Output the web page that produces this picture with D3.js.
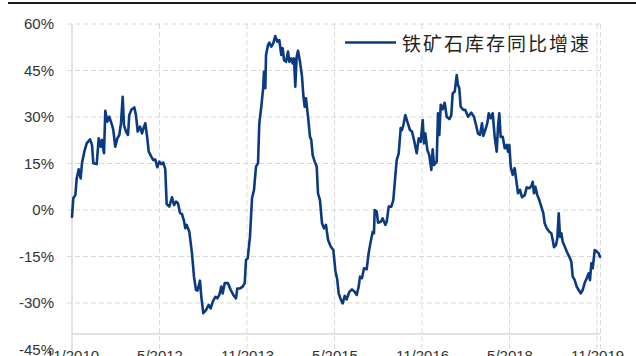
<!DOCTYPE html>
<html>
<head>
<meta charset="utf-8">
<script src="https://cdn.jsdelivr.net/npm/d3@7/dist/d3.min.js"></script>
<style>
  html, body { margin: 0; padding: 0; background: #fff; }
  svg { display: block; overflow: hidden; }
</style>
</head>
<body>
<svg id="chart" width="636" height="356"></svg>
<script>
// ---- data (decimal year, % yoy) ----
const seriesName = "铁矿石库存同比增速";
const years = [
  2010.833, 2010.855, 2010.890, 2010.914, 2010.948, 2010.982, 2011.004, 2011.044, 2011.085, 2011.142,
  2011.176, 2011.198, 2011.256, 2011.291, 2011.325, 2011.347, 2011.382, 2011.404, 2011.438, 2011.472,
  2011.519, 2011.541, 2011.575, 2011.610, 2011.644, 2011.673, 2011.702, 2011.724, 2011.759, 2011.793,
  2011.815, 2011.850, 2011.901, 2011.930, 2011.959, 2011.999, 2012.033, 2012.067, 2012.090, 2012.124,
  2012.148, 2012.192, 2012.227, 2012.261, 2012.295, 2012.330, 2012.364, 2012.398, 2012.432, 2012.456,
  2012.501, 2012.547, 2012.582, 2012.616, 2012.650, 2012.684, 2012.719, 2012.753, 2012.775, 2012.799,
  2012.844, 2012.890, 2012.924, 2012.959, 2012.985, 2013.027, 2013.050, 2013.084, 2013.130, 2013.176,
  2013.211, 2013.245, 2013.290, 2013.324, 2013.358, 2013.392, 2013.416, 2013.451, 2013.507, 2013.554,
  2013.598, 2013.644, 2013.667, 2013.713, 2013.759, 2013.794, 2013.816, 2013.845, 2013.884, 2013.919,
  2013.953, 2013.987, 2014.022, 2014.044, 2014.078, 2014.112, 2014.124, 2014.147, 2014.159, 2014.193,
  2014.215, 2014.250, 2014.284, 2014.318, 2014.352, 2014.387, 2014.421, 2014.445, 2014.467, 2014.502,
  2014.536, 2014.558, 2014.592, 2014.616, 2014.639, 2014.661, 2014.685, 2014.707, 2014.742, 2014.776,
  2014.798, 2014.822, 2014.844, 2014.879, 2014.913, 2014.935, 2014.959, 2014.994, 2015.028, 2015.050,
  2015.084, 2015.119, 2015.153, 2015.187, 2015.222, 2015.268, 2015.313, 2015.347, 2015.381, 2015.405,
  2015.439, 2015.474, 2015.508, 2015.542, 2015.587, 2015.633, 2015.679, 2015.714, 2015.748, 2015.770,
  2015.804, 2015.839, 2015.885, 2015.919, 2015.954, 2015.988, 2016.010, 2016.022, 2016.057, 2016.079,
  2016.125, 2016.159, 2016.204, 2016.228, 2016.262, 2016.307, 2016.341, 2016.365, 2016.399, 2016.434,
  2016.468, 2016.490, 2016.513, 2016.547, 2016.581, 2016.627, 2016.662, 2016.696, 2016.742, 2016.776,
  2016.811, 2016.845, 2016.867, 2016.890, 2016.924, 2016.958, 2016.993, 2017.016, 2017.039, 2017.085,
  2017.107, 2017.130, 2017.154, 2017.188, 2017.222, 2017.256, 2017.301, 2017.335, 2017.359, 2017.394,
  2017.428, 2017.450, 2017.472, 2017.496, 2017.541, 2017.575, 2017.622, 2017.678, 2017.724, 2017.759,
  2017.793, 2017.827, 2017.862, 2017.884, 2017.918, 2017.953, 2017.977, 2018.011, 2018.045, 2018.079,
  2018.114, 2018.136, 2018.158, 2018.182, 2018.217, 2018.251, 2018.285, 2018.307, 2018.330, 2018.354,
  2018.388, 2018.422, 2018.456, 2018.479, 2018.513, 2018.547, 2018.594, 2018.628, 2018.673, 2018.707,
  2018.731, 2018.753, 2018.776, 2018.810, 2018.844, 2018.878, 2018.913, 2018.936, 2018.971, 2019.015,
  2019.050, 2019.074, 2019.096, 2019.130, 2019.153, 2019.177, 2019.199, 2019.222, 2019.245, 2019.280,
  2019.314, 2019.359, 2019.393, 2019.417, 2019.451, 2019.485, 2019.519, 2019.554, 2019.588, 2019.622,
  2019.657, 2019.691, 2019.713, 2019.736, 2019.759, 2019.794, 2019.828, 2019.862, 2019.884
];
const values = [
  -2.2, 3.8, 4.8, 10.2, 13.1, 10.2, 15.1, 18.8, 21.5, 22.8,
  21.0, 15.1, 14.8, 23.1, 20.4, 22.6, 18.3, 32.0, 28.5, 30.1,
  27.4, 25.8, 20.4, 23.1, 24.2, 28.0, 36.5, 27.4, 25.3, 24.2,
  30.6, 32.3, 33.1, 30.6, 25.3, 26.9, 24.7, 26.9, 28.0, 23.1,
  18.8, 17.2, 16.1, 16.3, 13.8, 15.6, 14.8, 15.3, 13.1, 1.9,
  1.1, 4.1, 1.6, 2.7, 2.2, -0.9, -1.3, -3.5, -5.9, -4.8,
  -7.0, -14.0, -21.5, -25.8, -26.0, -22.8, -28.0, -33.3, -32.3, -30.6,
  -31.7, -29.6, -28.0, -28.5, -27.4, -24.7, -26.9, -23.6, -23.6, -25.8,
  -27.4, -28.5, -25.3, -25.3, -24.7, -23.6, -16.1, -15.6, -8.6, 3.8,
  6.5, 14.0, 15.1, 28.0, 33.3, 39.8, 44.6, 39.3, 50.0, 53.2,
  54.0, 52.7, 53.8, 56.1, 54.3, 54.8, 50.0, 52.2, 48.4, 47.8,
  51.1, 47.8, 48.9, 47.3, 48.9, 39.8, 49.5, 51.4, 47.8, 43.0,
  37.1, 33.3, 36.0, 30.1, 23.6, 22.6, 17.7, 15.6, 14.0, 5.4,
  3.2, -4.3, -5.9, -4.8, -9.6, -11.8, -12.9, -19.4, -22.6, -26.9,
  -28.8, -30.1, -27.7, -28.8, -26.4, -25.6, -26.4, -27.4, -24.7, -21.5,
  -22.0, -18.8, -19.1, -13.8, -10.2, -7.0, -7.5, 0.0, -0.5, -4.1,
  -3.8, -2.7, -4.8, -3.8, 1.1, 1.1, 3.2, 8.6, 16.1, 18.3,
  26.4, 25.8, 27.4, 30.6, 28.5, 25.8, 25.3, 22.6, 18.3, 23.1,
  22.0, 29.0, 21.5, 24.7, 19.4, 17.7, 12.9, 19.6, 14.5, 15.6,
  31.2, 24.2, 33.9, 32.5, 34.6, 30.1, 29.3, 30.6, 37.6, 38.2,
  43.5, 40.3, 39.3, 33.3, 32.3, 32.3, 30.1, 31.4, 30.1, 27.4,
  24.7, 24.2, 28.0, 23.9, 25.8, 28.0, 31.2, 29.6, 31.2, 23.6,
  18.8, 26.9, 31.2, 23.6, 23.6, 19.9, 21.0, 18.8, 21.0, 14.0,
  11.3, 13.5, 8.6, 5.4, 6.5, 4.1, 4.8, 7.3, 7.0, 7.7,
  9.1, 5.4, 7.5, 4.8, 3.2, 1.1, -1.1, -4.3, -5.9, -7.0,
  -7.5, -9.7, -12.0, -11.3, -9.1, -1.1, -8.6, -7.5, -10.2, -11.8,
  -13.4, -15.1, -16.7, -21.5, -22.6, -24.7, -25.8, -26.9, -25.8, -23.5,
  -22.0, -20.4, -22.6, -17.2, -18.8, -12.9, -13.4, -14.0, -15.1
];
const xTickYears = [2010.833, 2012.333, 2013.833, 2015.333, 2016.833, 2018.333, 2019.833];
const xTickLabels = ["11/2010", "5/2012", "11/2013", "5/2015", "11/2016", "5/2018", "11/2019"];
const yTicks = [60, 45, 30, 15, 0, -15, -30, -45];
const yMin = -45, yMax = 60, yAxisCross = -40;

(function draw() {
  const svg = d3.select("#chart");
  const pL = 72, pR = 597, pT = 24, pB = 349.5;
  const x = d3.scaleLinear().domain([xTickYears[0], xTickYears[xTickYears.length - 1]]).range([pL, pR]);
  const y = d3.scaleLinear().domain([yMin, yMax]).range([pB, pT]);
  const plotRight = x(years[years.length - 1]) + 0.5;

  const gridColor = "#d9d9d9";
  const lineColor = "#0b3a80";
  const font = "'Liberation Sans', Arial, sans-serif";

  // top border rule
  svg.append("line").attr("x1", 8).attr("x2", 636).attr("y1", 3).attr("y2", 3)
    .attr("stroke", "#1a1a1a").attr("stroke-width", 2);

  // horizontal gridlines
  svg.append("g").selectAll("line").data(yTicks.filter(d => d > yMin)).join("line")
    .attr("x1", pL - 5).attr("x2", plotRight)
    .attr("y1", d => y(d)).attr("y2", d => y(d))
    .attr("stroke", gridColor).attr("stroke-width", 1).attr("stroke-dasharray", "5,3");

  // vertical gridlines
  const vLines = xTickYears.slice(1).map(d => x(d)).concat([plotRight]);
  svg.append("g").selectAll("line").data(vLines).join("line")
    .attr("x1", d => d).attr("x2", d => d)
    .attr("y1", pT).attr("y2", pB)
    .attr("stroke", gridColor).attr("stroke-width", 1).attr("stroke-dasharray", "5,3");

  // axis lines
  svg.append("line").attr("x1", pL).attr("x2", pL).attr("y1", pT).attr("y2", pB + 2)
    .attr("stroke", gridColor).attr("stroke-width", 1.5);
  svg.append("line").attr("x1", pL).attr("x2", plotRight).attr("y1", y(yAxisCross)).attr("y2", y(yAxisCross))
    .attr("stroke", gridColor).attr("stroke-width", 1.5);

  // y axis labels
  const yAxis = svg.append("g").attr("transform", `translate(${pL},0)`)
    .call(d3.axisLeft(y).tickValues(yTicks).tickSize(0).tickPadding(18).tickFormat(d => d + "%"));
  yAxis.select(".domain").remove();
  yAxis.selectAll("text").attr("font-family", font).attr("font-size", 15).attr("fill", "#333");

  // x axis labels
  const xAxis = svg.append("g").attr("transform", `translate(0,${pB})`)
    .call(d3.axisBottom(x).tickValues(xTickYears).tickSize(0).tickPadding(1)
      .tickFormat((d, i) => xTickLabels[i]));
  xAxis.select(".domain").remove();
  xAxis.selectAll("text").attr("font-family", font).attr("font-size", 15).attr("fill", "#333");

  // series line
  const pts = years.map((t, i) => [t, values[i]]);
  svg.append("path").datum(pts)
    .attr("fill", "none").attr("stroke", lineColor).attr("stroke-width", 2.6)
    .attr("stroke-linejoin", "round").attr("stroke-linecap", "round")
    .attr("d", d3.line().x(d => x(d[0])).y(d => y(d[1])));

  // legend
  const lg = svg.append("g");
  lg.append("rect").attr("x", 338).attr("y", 29).attr("width", 256).attr("height", 26).attr("fill", "#fff");
  lg.append("line").attr("x1", 345).attr("x2", 396).attr("y1", 42.5).attr("y2", 42.5)
    .attr("stroke", lineColor).attr("stroke-width", 2.6);
  lg.append("text").attr("x", 402).attr("y", 42.5).attr("dominant-baseline", "central")
    .attr("font-family", "'Noto Sans CJK SC', sans-serif").attr("font-size", 19)
    .attr("letter-spacing", 2).attr("fill", "#222").text(seriesName);
})();
</script>
</body>
</html>
